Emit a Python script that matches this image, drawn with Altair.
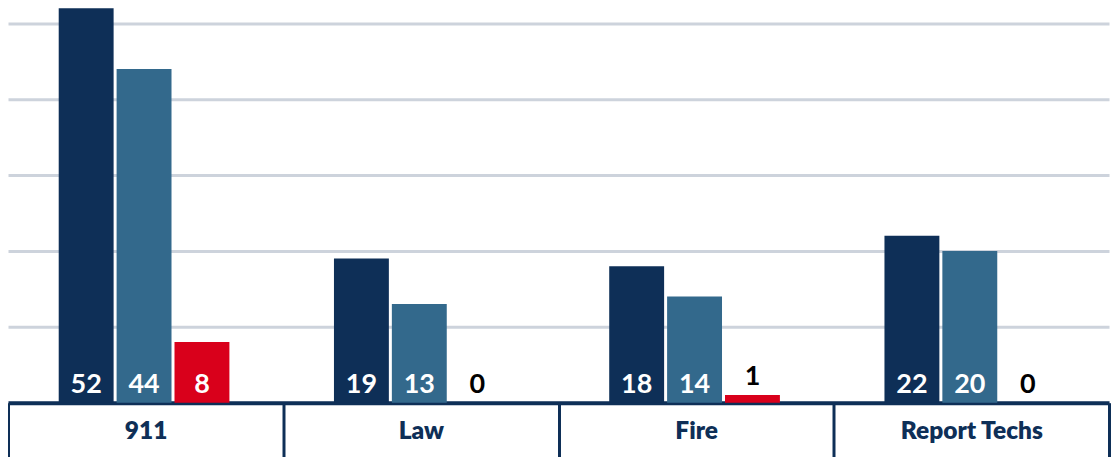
import altair as alt
import pandas as pd

categories = ["911", "Law", "Fire", "Report Techs"]
series = ["Series 1", "Series 2", "Series 3"]
values_s1 = [52, 19, 18, 22]
values_s2 = [44, 13, 14, 20]
values_s3 = [8, 0, 1, 0]
colors = ["#0e2f57", "#33698c", "#d9001b"]
grid_values = [0, 10, 20, 30, 40, 50]

NAVY = "#0e2f57"

rows = []
for i, c in enumerate(categories):
    for s, vals in zip(series, [values_s1, values_s2, values_s3]):
        rows.append({"category": c, "series": s, "value": vals[i]})
df = pd.DataFrame(rows)

x_enc = alt.X(
    "category:N",
    sort=categories,
    scale=alt.Scale(paddingInner=0, paddingOuter=0),
    axis=alt.Axis(
        title=None,
        labelAngle=0,
        tickBand="extent",
        ticks=True,
        tickColor=NAVY,
        tickWidth=3,
        tickSize=54,
        domainColor=NAVY,
        domainWidth=4,
        labelFont="Lato",
        labelFontSize=24.5,
        labelFontWeight=800,
        labelColor=NAVY,
        labelPadding=-37,
    ),
)
xoff_enc = alt.XOffset(
    "series:N",
    sort=series,
    scale=alt.Scale(paddingInner=0.0517, paddingOuter=0.903, align=0.485),
)

base = alt.Chart(df)

bars = base.mark_bar().encode(
    x=x_enc,
    xOffset=xoff_enc,
    y=alt.Y(
        "value:Q",
        scale=alt.Scale(domain=[0, 50], nice=False),
        axis=alt.Axis(
            title=None,
            labels=False,
            ticks=False,
            domain=False,
            values=grid_values,
            grid=True,
            gridColor="#cdd3dc",
            gridWidth=3,
        ),
    ),
    color=alt.Color("series:N", sort=series, scale=alt.Scale(domain=series, range=colors), legend=None),
)

labels = base.transform_calculate(
    labelY="datum.value >= 3 ? 0 : datum.value",
    labelColor="datum.value >= 3 ? 'white' : 'black'",
).mark_text(
    font="Lato", fontSize=27, fontWeight="bold", baseline="alphabetic", dy=-10
).encode(
    x=alt.X("category:N", sort=categories),
    xOffset=alt.XOffset("series:N", sort=series),
    y=alt.Y("labelY:Q"),
    text=alt.Text("value:Q"),
    color=alt.Color("labelColor:N", scale=None),
)

chart = alt.layer(bars, labels).properties(
    width=1103, height=380,
    padding={"left": -2, "top": -1, "right": 0, "bottom": 0},
).configure_view(stroke=None)

chart.save("out.html", embed_options={"renderer": "svg", "actions": False})
